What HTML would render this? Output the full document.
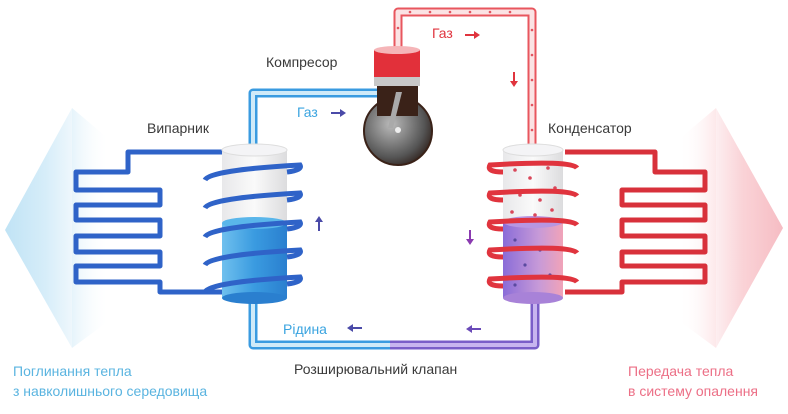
<!DOCTYPE html>
<html><head><meta charset="utf-8"><style>
body{margin:0;background:#fff;width:788px;height:409px;overflow:hidden}
text{font-family:"Liberation Sans",sans-serif}
</style></head><body>
<svg width="788" height="409" viewBox="0 0 788 409" xmlns="http://www.w3.org/2000/svg">
<defs>
<linearGradient id="lb" x1="0" x2="1"><stop offset="0" stop-color="#c0e3f5"/><stop offset="0.6" stop-color="#d6edf9"/><stop offset="1" stop-color="#eef7fc"/></linearGradient>
<linearGradient id="lb2" x1="0" x2="1"><stop offset="0" stop-color="#e6f4fb"/><stop offset="1" stop-color="#fff" stop-opacity="0"/></linearGradient>
<linearGradient id="rp" x1="1" x2="0"><stop offset="0" stop-color="#f6bcc3"/><stop offset="0.6" stop-color="#fad3d7"/><stop offset="1" stop-color="#fdeef0"/></linearGradient>
<linearGradient id="rp2" x1="1" x2="0"><stop offset="0" stop-color="#fde8ea"/><stop offset="1" stop-color="#fff" stop-opacity="0"/></linearGradient>
<linearGradient id="bl" x1="0" x2="1"><stop offset="0" stop-color="#6fc0ee"/><stop offset="0.5" stop-color="#3a9be0"/><stop offset="1" stop-color="#2a7fcf"/></linearGradient>
<linearGradient id="pu" x1="0" x2="1"><stop offset="0" stop-color="#8a6cd8"/><stop offset="0.6" stop-color="#c79ad8"/><stop offset="1" stop-color="#f1a3b8"/></linearGradient>
<linearGradient id="wh" x1="0" x2="1"><stop offset="0" stop-color="#e8e8ea"/><stop offset="0.5" stop-color="#fafafa"/><stop offset="1" stop-color="#dcdcde"/></linearGradient>
<radialGradient id="cg" cx="0.4" cy="0.4" r="0.7"><stop offset="0" stop-color="#bbb"/><stop offset="0.7" stop-color="#555"/><stop offset="1" stop-color="#2a1a14"/></radialGradient>
</defs>
<polygon points="5,230 72,108 72,348" fill="url(#lb)"/>
<polygon points="72,108 72,348 110,320 110,140" fill="url(#lb2)"/>
<polygon points="783,228 716,108 716,348" fill="url(#rp)"/>
<polygon points="716,108 716,348 678,320 678,140" fill="url(#rp2)"/>

<!-- pipes -->
<g fill="none" stroke-linejoin="round">
<path d="M253,150 V93 H378" stroke="#3a9be0" stroke-width="9"/>
<path d="M253,150 V93 H378" stroke="#cfeaf8" stroke-width="4"/>
<path d="M398,50 V12 H532 V150" stroke="#e8565e" stroke-width="9"/>
<path d="M398,50 V12 H532 V150" stroke="#fbe3e4" stroke-width="5"/>
<path d="M253,298 V345 H390" stroke="#3a9be0" stroke-width="9"/>
<path d="M253,298 V345 H390" stroke="#cfeaf8" stroke-width="4"/>
<path d="M390,345 H535 V298" stroke="#7a5ec8" stroke-width="9"/>
<path d="M390,345 H535 V298" stroke="#c8b5ef" stroke-width="4"/>
</g>
<g fill="#e35560">
<circle cx="410" cy="12" r="1.3"/><circle cx="430" cy="12" r="1.3"/><circle cx="450" cy="12" r="1.3"/><circle cx="470" cy="12" r="1.3"/><circle cx="490" cy="12" r="1.3"/><circle cx="510" cy="12" r="1.3"/><circle cx="532" cy="30" r="1.3"/><circle cx="532" cy="55" r="1.3"/><circle cx="532" cy="80" r="1.3"/><circle cx="532" cy="105" r="1.3"/><circle cx="532" cy="130" r="1.3"/><circle cx="398" cy="28" r="1.3"/>
</g>

<!-- serpentines -->
<g fill="none" stroke="#2f63c8" stroke-width="5" stroke-linejoin="round">
<path d="M222,152 H128 V172 H76 V190 H160 V205 H76 V220 H160 V236 H76 V252 H160 V266 H76 V282 H160 V292 H222"/>
</g>
<g fill="none" stroke="#d8313b" stroke-width="5" stroke-linejoin="round">
<path d="M565,152 H655 V172 H705 V190 H622 V205 H705 V220 H622 V236 H705 V252 H622 V266 H705 V282 H622 V292 H565"/>
</g>

<!-- evaporator -->
<rect x="222" y="150" width="65" height="75" fill="url(#wh)"/>
<ellipse cx="254.5" cy="150" rx="32.5" ry="6" fill="#f4f4f6" stroke="#ddd"/>
<rect x="222" y="223" width="65" height="75" fill="url(#bl)"/>
<ellipse cx="254.5" cy="223" rx="32.5" ry="6" fill="#5ab6ea"/>
<ellipse cx="254.5" cy="298" rx="32.5" ry="6" fill="#2a7fcf"/>
<g fill="none" stroke="#2f63c8" stroke-width="5">
<path d="M205,180 Q210,170 300,165 Q303,170 287,172"/>
<path d="M205,208 Q210,198 300,193 Q303,198 287,200"/>
<path d="M205,237 Q210,227 300,222 Q303,227 287,229"/>
<path d="M205,265 Q210,255 300,250 Q303,255 287,257"/>
<path d="M205,292 Q210,282 300,277 Q303,282 287,284"/>
</g>
<!-- condenser -->
<rect x="503" y="150" width="60" height="75" fill="url(#wh)"/>
<ellipse cx="533" cy="150" rx="30" ry="6" fill="#f4f4f6" stroke="#ddd"/>
<rect x="503" y="222" width="60" height="76" fill="url(#pu)"/>
<ellipse cx="533" cy="222" rx="30" ry="6" fill="#b796e2"/>
<ellipse cx="533" cy="298" rx="30" ry="6" fill="#a882d8"/>
<g fill="#d9475a">
<circle cx="515" cy="170" r="1.8"/><circle cx="530" cy="178" r="1.8"/><circle cx="548" cy="168" r="1.8"/><circle cx="520" cy="195" r="1.8"/><circle cx="540" cy="200" r="1.8"/><circle cx="555" cy="188" r="1.8"/><circle cx="512" cy="212" r="1.8"/><circle cx="535" cy="215" r="1.8"/><circle cx="552" cy="210" r="1.8"/>
</g>
<g fill="#5a4aa0"><circle cx="515" cy="240" r="1.6"/><circle cx="540" cy="250" r="1.6"/><circle cx="525" cy="265" r="1.6"/><circle cx="550" cy="275" r="1.6"/><circle cx="515" cy="285" r="1.6"/></g>
<g fill="none" stroke="#e0343e" stroke-width="5">
<path d="M577,168 Q572,160 490,165 Q486,172 503,172"/>
<path d="M577,196 Q572,188 490,193 Q486,200 503,200"/>
<path d="M577,225 Q572,217 490,222 Q486,229 503,229"/>
<path d="M577,253 Q572,245 490,250 Q486,257 503,257"/>
<path d="M577,282 Q572,274 490,279 Q486,286 503,286"/>
</g>

<!-- compressor -->
<circle cx="398" cy="131" r="34" fill="url(#cg)" stroke="#3a2218" stroke-width="2"/>
<rect x="377" y="86" width="41" height="30" fill="#3a2218"/>
<path d="M388,128 L396,92 L402,92 L393,128 Z" fill="#aaa"/>
<rect x="374" y="76" width="46" height="10" fill="#c8c8c8"/>
<rect x="374" y="50" width="46" height="27" fill="#e2303a"/>
<ellipse cx="397" cy="50" rx="23" ry="4" fill="#f5b5b8"/>
<circle cx="398" cy="130" r="3" fill="#eee"/>

<!-- arrows -->
<g fill="#4a4aa8">
<path d="M331,112 H340 V109 L346,113 L340,117 V114 H331Z"/>
<path d="M318,231 V222 H315 L319,216 L323,222 H320 V231Z"/>
<path d="M362,327 H353 V324 L347,328 L353,332 V329 H362Z"/>
</g>
<path d="M481,328 H472 V325 L466,329 L472,333 V330 H481Z" fill="#6a4ab8"/>
<path d="M469,230 V239 H466 L470,245 L474,239 H471 V230Z" fill="#8a3ab0"/>
<path d="M465,34 H474 V31 L480,35 L474,39 V36 H465Z" fill="#e0343e"/>
<path d="M513,72 V81 H510 L514,87 L518,81 H515 V72Z" fill="#e0343e"/>

<!-- labels -->
<g font-size="14" fill="#3a3a3a">
<text x="266" y="67">Компресор</text>
<text x="147" y="133">Випарник</text>
<text x="548" y="133">Конденсатор</text>
<text x="294" y="374">Розширювальний клапан</text>
</g>
<text x="297" y="117" font-size="14" fill="#3aa4e0">Газ</text>
<text x="432" y="38" font-size="14" fill="#e0343e">Газ</text>
<text x="283" y="334" font-size="14" fill="#3aa4e0">Рідина</text>
<g font-size="14" fill="#5ab4e0"><text x="13" y="376">Поглинання тепла</text><text x="13" y="396">з навколишнього середовища</text></g>
<g font-size="14" fill="#ec6f86"><text x="628" y="376">Передача тепла</text><text x="628" y="396">в систему опалення</text></g>
</svg>
</body></html>
